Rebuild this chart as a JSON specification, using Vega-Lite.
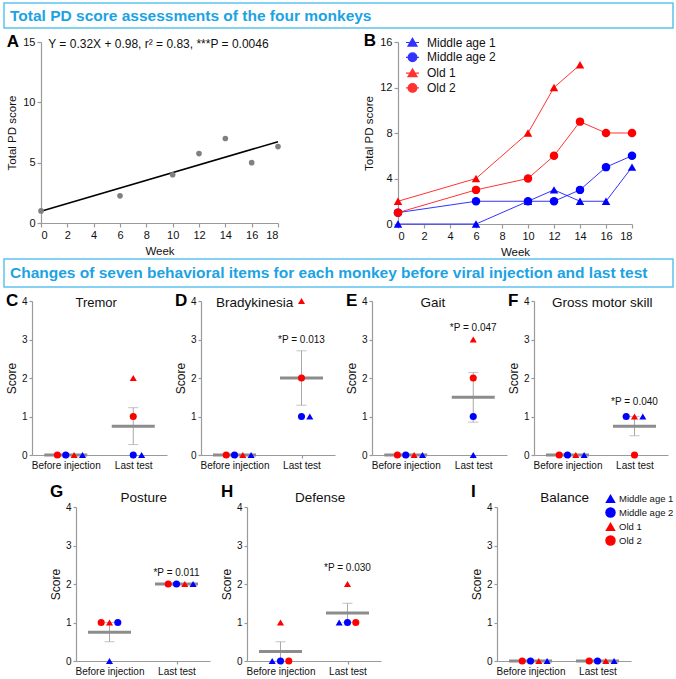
{
 "$schema": "https://vega.github.io/schema/vega-lite/v6.json",
 "padding": {"left": 3, "top": 2, "right": 2, "bottom": 2},
 "background": "white",
 "config": {
  "font": "Liberation Sans",
  "view": {"stroke": null},
  "axis": {"grid": false, "domainColor": "#9a9a9a", "tickColor": "#9a9a9a", "domainWidth": 1.2, "tickWidth": 1.2, "tickSize": 4, "labelFontSize": 10, "labelColor": "#111", "labelPadding": 2, "labelOverlap": false, "titleFontSize": 12, "titleFontWeight": "normal", "titleColor": "#111", "titlePadding": 2.5, "labelFont": "Liberation Sans", "titleFont": "Liberation Sans"},
  "title": {"font": "Liberation Sans"},
  "legend": {"labelFont": "Liberation Sans", "labelColor": "#111"}
 },
 "datasets": {
  "avg": [{"week":0,"score":1},{"week":6,"score":2.25},{"week":10,"score":4},{"week":12,"score":5.75},{"week":14,"score":7},{"week":16,"score":5},{"week":18,"score":6.33}],
  "fit": [{"week":0,"score":0.98},{"week":18,"score":6.74}],
  "monkeys": [
   {"monkey":"Middle age 1","week":0,"score":0},{"monkey":"Middle age 1","week":6,"score":0},{"monkey":"Middle age 1","week":10,"score":2},{"monkey":"Middle age 1","week":12,"score":3},{"monkey":"Middle age 1","week":14,"score":2},{"monkey":"Middle age 1","week":16,"score":2},{"monkey":"Middle age 1","week":18,"score":5},
   {"monkey":"Middle age 2","week":0,"score":1},{"monkey":"Middle age 2","week":6,"score":2},{"monkey":"Middle age 2","week":10,"score":2},{"monkey":"Middle age 2","week":12,"score":2},{"monkey":"Middle age 2","week":14,"score":3},{"monkey":"Middle age 2","week":16,"score":5},{"monkey":"Middle age 2","week":18,"score":6},
   {"monkey":"Old 1","week":0,"score":2},{"monkey":"Old 1","week":6,"score":4},{"monkey":"Old 1","week":10,"score":8},{"monkey":"Old 1","week":12,"score":12},{"monkey":"Old 1","week":14,"score":14},
   {"monkey":"Old 2","week":0,"score":1},{"monkey":"Old 2","week":6,"score":3},{"monkey":"Old 2","week":10,"score":4},{"monkey":"Old 2","week":12,"score":6},{"monkey":"Old 2","week":14,"score":9},{"monkey":"Old 2","week":16,"score":8},{"monkey":"Old 2","week":18,"score":8}
  ],
  "scores": [
   {"panel":"C","t":0,"monkey":"Old 2","score":0},{"panel":"C","t":0,"monkey":"Middle age 2","score":0},{"panel":"C","t":0,"monkey":"Old 1","score":0},{"panel":"C","t":0,"monkey":"Middle age 1","score":0},
   {"panel":"C","t":1,"monkey":"Old 1","score":2},{"panel":"C","t":1,"monkey":"Old 2","score":1},{"panel":"C","t":1,"monkey":"Middle age 2","score":0},{"panel":"C","t":1,"monkey":"Middle age 1","score":0},
   {"panel":"D","t":0,"monkey":"Old 2","score":0},{"panel":"D","t":0,"monkey":"Middle age 2","score":0},{"panel":"D","t":0,"monkey":"Old 1","score":0},{"panel":"D","t":0,"monkey":"Middle age 1","score":0},
   {"panel":"D","t":1,"monkey":"Old 1","score":4},{"panel":"D","t":1,"monkey":"Old 2","score":2},{"panel":"D","t":1,"monkey":"Middle age 2","score":1},{"panel":"D","t":1,"monkey":"Middle age 1","score":1},
   {"panel":"E","t":0,"monkey":"Old 2","score":0},{"panel":"E","t":0,"monkey":"Middle age 2","score":0},{"panel":"E","t":0,"monkey":"Old 1","score":0},{"panel":"E","t":0,"monkey":"Middle age 1","score":0},
   {"panel":"E","t":1,"monkey":"Old 1","score":3},{"panel":"E","t":1,"monkey":"Old 2","score":2},{"panel":"E","t":1,"monkey":"Middle age 2","score":1},{"panel":"E","t":1,"monkey":"Middle age 1","score":0},
   {"panel":"F","t":0,"monkey":"Old 2","score":0},{"panel":"F","t":0,"monkey":"Middle age 2","score":0},{"panel":"F","t":0,"monkey":"Old 1","score":0},{"panel":"F","t":0,"monkey":"Middle age 1","score":0},
   {"panel":"F","t":1,"monkey":"Middle age 2","score":1},{"panel":"F","t":1,"monkey":"Old 1","score":1},{"panel":"F","t":1,"monkey":"Middle age 1","score":1},{"panel":"F","t":1,"monkey":"Old 2","score":0},
   {"panel":"G","t":0,"monkey":"Old 2","score":1},{"panel":"G","t":0,"monkey":"Old 1","score":1},{"panel":"G","t":0,"monkey":"Middle age 2","score":1},{"panel":"G","t":0,"monkey":"Middle age 1","score":0},
   {"panel":"G","t":1,"monkey":"Old 2","score":2},{"panel":"G","t":1,"monkey":"Middle age 2","score":2},{"panel":"G","t":1,"monkey":"Old 1","score":2},{"panel":"G","t":1,"monkey":"Middle age 1","score":2},
   {"panel":"H","t":0,"monkey":"Old 1","score":1},{"panel":"H","t":0,"monkey":"Middle age 1","score":0},{"panel":"H","t":0,"monkey":"Middle age 2","score":0},{"panel":"H","t":0,"monkey":"Old 2","score":0},
   {"panel":"H","t":1,"monkey":"Old 1","score":2},{"panel":"H","t":1,"monkey":"Middle age 1","score":1},{"panel":"H","t":1,"monkey":"Middle age 2","score":1},{"panel":"H","t":1,"monkey":"Old 2","score":1},
   {"panel":"I","t":0,"monkey":"Old 2","score":0},{"panel":"I","t":0,"monkey":"Middle age 2","score":0},{"panel":"I","t":0,"monkey":"Old 1","score":0},{"panel":"I","t":0,"monkey":"Middle age 1","score":0},
   {"panel":"I","t":1,"monkey":"Old 2","score":0},{"panel":"I","t":1,"monkey":"Middle age 2","score":0},{"panel":"I","t":1,"monkey":"Old 1","score":0},{"panel":"I","t":1,"monkey":"Middle age 1","score":0}
  ],
  "ptitles": [{"panel":"C","label":"Tremor"},{"panel":"D","label":"Bradykinesia"},{"panel":"E","label":"Gait"},{"panel":"F","label":"Gross motor skill"},{"panel":"G","label":"Posture"},{"panel":"H","label":"Defense"},{"panel":"I","label":"Balance"}],
  "pvals": [{"panel":"D","label":"*P = 0.013","py":3.0},{"panel":"E","label":"*P = 0.047","py":3.3},{"panel":"F","label":"*P = 0.040","py":1.38},{"panel":"G","label":"*P = 0.011","py":2.29},{"panel":"H","label":"*P = 0.030","py":2.42}]
 },
 "spacing": 0,
 "resolve": {"scale": {"color": "independent", "shape": "independent", "stroke": "independent"}, "legend": {"color": "independent", "shape": "independent", "stroke": "independent"}},
 "vconcat": [
  {
   "spacing": 3,
   "resolve": {"scale": {"color": "independent", "shape": "independent", "stroke": "independent"}, "legend": {"color": "independent", "shape": "independent", "stroke": "independent"}},
   "vconcat": [
    {"width": 669, "height": 25, "data": {"values": []}, "mark": "text", "encoding": {}, "view": {"stroke": "#5cc2ee", "strokeWidth": 1.5},
     "title": {"text": "Total PD score assessments of the four monkeys", "anchor": "start", "frame": "group", "offset": -21, "dx": 6, "fontSize": 15.5, "fontWeight": "bold", "color": "#1ba3e3"}},
    {
     "spacing": 0,
     "resolve": {"scale": {"color": "independent", "shape": "independent", "stroke": "independent"}, "legend": {"color": "independent", "shape": "independent", "stroke": "independent"}},
     "hconcat": [
      {"width": 2, "height": 1, "data": {"values": []}, "mark": "point", "encoding": {}},
      {
       "spacing": 82,
       "resolve": {"scale": {"color": "independent", "shape": "independent", "stroke": "independent"}, "legend": {"color": "independent", "shape": "independent", "stroke": "independent"}},
       "hconcat": [
        {
         "width": 237, "height": 181,
         "title": {"text": "A", "anchor": "start", "frame": "bounds", "fontSize": 17, "fontWeight": "bold", "color": "#000", "offset": -15},
         "layer": [
          {"data": {"name": "fit"}, "mark": {"type": "line", "color": "#000", "strokeWidth": 1.5},
           "encoding": {
            "x": {"field": "week", "type": "quantitative", "scale": {"domain": [0, 18], "nice": false}, "axis": {"values": [0,2,4,6,8,10,12,14,16,18], "tickCount": 20, "labelOverlap": false, "title": "Week", "labelFontSize": 11, "titleFontSize": 11.5, "titlePadding": 5}},
            "y": {"field": "score", "type": "quantitative", "scale": {"domain": [0, 15], "nice": false}, "axis": {"values": [0,5,10,15], "tickCount": 20, "labelOverlap": false, "title": "Total PD score", "labelFontSize": 11, "titleFontSize": 11.5, "titlePadding": 5}}}},
          {"data": {"name": "avg"}, "mark": {"type": "circle", "color": "#808080", "size": 32, "opacity": 1},
           "encoding": {"x": {"field": "week", "type": "quantitative"}, "y": {"field": "score", "type": "quantitative"}}},
          {"data": {"values": [{"label": "Y = 0.32X + 0.98, r² = 0.83, ***P = 0.0046"}]}, "mark": {"type": "text", "align": "left", "baseline": "middle", "fontSize": 12, "dy": 2, "color": "#111"},
           "encoding": {"x": {"datum": 0.55}, "y": {"datum": 15}, "text": {"field": "label"}}}
         ]
        },
        {
         "width": 234, "height": 182,
         "title": {"text": "B", "anchor": "start", "frame": "bounds", "fontSize": 17, "fontWeight": "bold", "color": "#000", "offset": -15},
         "data": {"name": "monkeys"},
         "layer": [
          {"mark": {"type": "line", "strokeWidth": 1, "opacity": 0.8},
           "encoding": {
            "x": {"field": "week", "type": "quantitative", "scale": {"domain": [0, 18], "nice": false}, "axis": {"values": [0,2,4,6,8,10,12,14,16,18], "tickCount": 20, "labelOverlap": false, "title": "Week", "labelFontSize": 11, "titleFontSize": 11.5, "titlePadding": 5}},
            "y": {"field": "score", "type": "quantitative", "scale": {"domain": [0, 16], "nice": false}, "axis": {"values": [0,4,8,12,16], "tickCount": 20, "labelOverlap": false, "title": "Total PD score", "labelFontSize": 11, "titleFontSize": 11.5, "titlePadding": 5}},
            "stroke": {"field": "monkey", "type": "nominal", "scale": {"domain": ["Middle age 1","Middle age 2","Old 1","Old 2"], "range": ["#0000ff","#0000ff","#ff0000","#ff0000"]}}}},
          {"transform": [{"filter": "datum.monkey == 'Middle age 1' || datum.monkey == 'Old 1'"}],
           "mark": {"type": "point", "filled": true, "size": 72, "opacity": 1, "shape": "triangle-up"},
           "encoding": {
            "x": {"field": "week", "type": "quantitative"},
            "y": {"field": "score", "type": "quantitative"},
            "color": {"field": "monkey", "type": "nominal", "scale": {"domain": ["Middle age 1","Middle age 2","Old 1","Old 2"], "range": ["#0000ff","#0000ff","#ff0000","#ff0000"]}}}},
          {"transform": [{"filter": "datum.monkey == 'Middle age 2' || datum.monkey == 'Old 2'"}],
           "mark": {"type": "point", "filled": true, "size": 72, "opacity": 1, "shape": "circle"},
           "encoding": {
            "x": {"field": "week", "type": "quantitative"},
            "y": {"field": "score", "type": "quantitative"},
            "color": {"field": "monkey", "type": "nominal", "scale": {"domain": ["Middle age 1","Middle age 2","Old 1","Old 2"], "range": ["#0000ff","#0000ff","#ff0000","#ff0000"]}}}},
          {"mark": {"type": "point", "filled": true, "opacity": 0, "size": 1},
           "encoding": {
            "x": {"field": "week", "type": "quantitative"},
            "y": {"field": "score", "type": "quantitative"},
            "color": {"field": "monkey", "type": "nominal", "scale": {"domain": ["Middle age 1","Middle age 2","Old 1","Old 2"], "range": ["#0000ff","#0000ff","#ff0000","#ff0000"]},
             "legend": {"title": null, "orient": "none", "legendX": 7, "legendY": -7, "padding": 0, "labelFontSize": 12, "symbolSize": 169, "symbolStrokeWidth": 1.2, "symbolOpacity": 1, "labelOffset": 7, "rowPadding": 0.8}},
            "shape": {"field": "monkey", "type": "nominal", "scale": {"domain": ["Middle age 1","Middle age 2","Old 1","Old 2"], "range": ["M-1,0L1,0M0,-0.65L0.7,0.55L-0.7,0.55Z", "M-1,0L1,0M0.67,0A0.67,0.67,0,1,1,-0.67,0A0.67,0.67,0,1,1,0.67,0Z", "M-1,0L1,0M0,-0.65L0.7,0.55L-0.7,0.55Z", "M-1,0L1,0M0.67,0A0.67,0.67,0,1,1,-0.67,0A0.67,0.67,0,1,1,0.67,0Z"]},
             "legend": {"title": null, "orient": "none", "legendX": 7, "legendY": -7, "padding": 0, "labelFontSize": 12, "symbolSize": 169, "symbolStrokeWidth": 1.2, "symbolOpacity": 1, "labelOffset": 7, "rowPadding": 0.8}},
            "stroke": {"field": "monkey", "type": "nominal", "scale": {"domain": ["Middle age 1","Middle age 2","Old 1","Old 2"], "range": ["#0000ff","#0000ff","#ff0000","#ff0000"]},
             "legend": {"title": null, "orient": "none", "legendX": 7, "legendY": -7, "padding": 0, "labelFontSize": 12, "symbolSize": 169, "symbolStrokeWidth": 1.2, "symbolOpacity": 1, "labelOffset": 7, "rowPadding": 0.8}}}}
         ]
        }
       ]
      }
     ]
    }
   ]
  },
  {
   "spacing": 4,
   "resolve": {"scale": {"color": "independent", "shape": "independent", "stroke": "independent"}, "legend": {"color": "independent", "shape": "independent", "stroke": "independent"}},
   "vconcat": [
    {"width": 669, "height": 28, "data": {"values": []}, "mark": "text", "encoding": {}, "view": {"stroke": "#5cc2ee", "strokeWidth": 1.5},
     "title": {"text": "Changes of seven behavioral items for each monkey before viral injection and last test", "anchor": "start", "frame": "group", "offset": -22, "dx": 6, "fontSize": 15.5, "fontWeight": "bold", "color": "#1ba3e3"}},
    {
     "spacing": 13,
     "resolve": {"scale": {"color": "independent", "shape": "independent"}, "legend": {"color": "independent", "shape": "independent"}},
     "vconcat": [
      {
       "spacing": 0,
       "resolve": {"scale": {"color": "independent", "shape": "independent"}, "legend": {"color": "independent", "shape": "independent"}},
       "hconcat": [
        {"width": 1, "height": 1, "data": {"values": []}, "mark": "point", "encoding": {}},
        {
         "spacing": 7,
         "resolve": {"scale": {"color": "independent", "shape": "independent"}, "legend": {"color": "independent", "shape": "independent"}},
         "hconcat": [
          {"width": 135, "height": 154,
           "title": {"text": "C", "anchor": "start", "frame": "bounds", "fontSize": 17, "fontWeight": "bold", "color": "#000", "offset": -14},
           "data": {"name": "scores"}, "transform": [{"filter": "datum.panel == 'C'"}],
           "layer": [
            {"mark": {"type": "errorbar", "extent": "stderr", "orient": "vertical", "color": "#a8a8a8", "ticks": {"size": 10, "color": "#a8a8a8"}},
             "encoding": {"x": {"field": "t", "type": "quantitative", "title": null}, "y": {"field": "score", "type": "quantitative", "title": "Score"}}},
            {"mark": {"type": "tick", "orient": "horizontal", "size": 43, "thickness": 3, "color": "#8c8c8c"},
             "encoding": {"x": {"field": "t", "type": "quantitative", "scale": {"domain": [-0.5, 1.5], "nice": false, "zero": false}, "axis": {"values": [0, 1], "tickCount": 20, "labelExpr": "datum.value == 0 ? 'Before injection' : 'Last test'", "title": null, "labelOverlap": false, "labelFlush": false, "tickSize": 3}},
              "y": {"aggregate": "mean", "field": "score", "type": "quantitative", "scale": {"domain": [0, 4], "nice": false}, "axis": {"values": [0,1,2,3,4], "tickCount": 20, "format": "d", "labelOverlap": false, "title": "Score", "tickSize": 3}}}},
            {"transform": [{"window": [{"op": "row_number", "as": "rn"}, {"op": "count", "as": "n"}], "groupby": ["t", "score"], "frame": [null, null]}, {"calculate": "datum.t + (datum.rn - 1 - floor((datum.n - 1) / 2)) * 0.124", "as": "xj"}],
             "mark": {"type": "point", "filled": true, "size": 50, "opacity": 1},
             "encoding": {"x": {"field": "xj", "type": "quantitative", "title": null}, "y": {"field": "score", "type": "quantitative", "title": "Score"},
              "color": {"field": "monkey", "type": "nominal", "scale": {"domain": ["Middle age 1","Middle age 2","Old 1","Old 2"], "range": ["#0000ff","#0000ff","#ff0000","#ff0000"]}, "legend": null},
              "shape": {"field": "monkey", "type": "nominal", "scale": {"domain": ["Middle age 1","Middle age 2","Old 1","Old 2"], "range": ["triangle-up","circle","triangle-up","circle"]}, "legend": null}}},
            {"data": {"name": "ptitles"}, "transform": [{"filter": "datum.panel == 'C'"}], "mark": {"type": "text", "fontSize": 13, "baseline": "middle", "dy": 2, "color": "#111"},
             "encoding": {"x": {"datum": 0.45}, "y": {"datum": 4}, "text": {"field": "label"}}}
           ]},
          {
           "spacing": 10,
           "resolve": {"scale": {"color": "independent", "shape": "independent"}, "legend": {"color": "independent", "shape": "independent"}},
           "hconcat": [
            {"width": 134, "height": 154,
             "title": {"text": "D", "anchor": "start", "frame": "bounds", "fontSize": 17, "fontWeight": "bold", "color": "#000", "offset": -14},
             "data": {"name": "scores"}, "transform": [{"filter": "datum.panel == 'D'"}],
             "layer": [
              {"mark": {"type": "errorbar", "extent": "stderr", "orient": "vertical", "color": "#a8a8a8", "ticks": {"size": 10, "color": "#a8a8a8"}},
               "encoding": {"x": {"field": "t", "type": "quantitative", "title": null}, "y": {"field": "score", "type": "quantitative", "title": "Score"}}},
              {"mark": {"type": "tick", "orient": "horizontal", "size": 43, "thickness": 3, "color": "#8c8c8c"},
               "encoding": {"x": {"field": "t", "type": "quantitative", "scale": {"domain": [-0.5, 1.5], "nice": false, "zero": false}, "axis": {"values": [0, 1], "tickCount": 20, "labelExpr": "datum.value == 0 ? 'Before injection' : 'Last test'", "title": null, "labelOverlap": false, "labelFlush": false, "tickSize": 3}},
                "y": {"aggregate": "mean", "field": "score", "type": "quantitative", "scale": {"domain": [0, 4], "nice": false}, "axis": {"values": [0,1,2,3,4], "tickCount": 20, "format": "d", "labelOverlap": false, "title": "Score", "tickSize": 3}}}},
              {"transform": [{"window": [{"op": "row_number", "as": "rn"}, {"op": "count", "as": "n"}], "groupby": ["t", "score"], "frame": [null, null]}, {"calculate": "datum.t + (datum.rn - 1 - floor((datum.n - 1) / 2)) * 0.124", "as": "xj"}],
               "mark": {"type": "point", "filled": true, "size": 50, "opacity": 1},
               "encoding": {"x": {"field": "xj", "type": "quantitative", "title": null}, "y": {"field": "score", "type": "quantitative", "title": "Score"},
                "color": {"field": "monkey", "type": "nominal", "scale": {"domain": ["Middle age 1","Middle age 2","Old 1","Old 2"], "range": ["#0000ff","#0000ff","#ff0000","#ff0000"]}, "legend": null},
                "shape": {"field": "monkey", "type": "nominal", "scale": {"domain": ["Middle age 1","Middle age 2","Old 1","Old 2"], "range": ["triangle-up","circle","triangle-up","circle"]}, "legend": null}}},
              {"data": {"name": "ptitles"}, "transform": [{"filter": "datum.panel == 'D'"}], "mark": {"type": "text", "fontSize": 13.5, "baseline": "middle", "dy": 2, "color": "#111"},
               "encoding": {"x": {"datum": 0.3}, "y": {"datum": 4}, "text": {"field": "label"}}},
              {"data": {"name": "pvals"}, "transform": [{"filter": "datum.panel == 'D'"}], "mark": {"type": "text", "fontSize": 10, "baseline": "middle", "color": "#111"},
               "encoding": {"x": {"datum": 1}, "y": {"field": "py", "type": "quantitative"}, "text": {"field": "label"}}}
             ]},
            {
             "spacing": 0,
             "resolve": {"scale": {"color": "independent", "shape": "independent"}, "legend": {"color": "independent", "shape": "independent"}},
             "hconcat": [
              {"width": 135, "height": 154,
               "title": {"text": "E", "anchor": "start", "frame": "bounds", "fontSize": 17, "fontWeight": "bold", "color": "#000", "offset": -14},
               "data": {"name": "scores"}, "transform": [{"filter": "datum.panel == 'E'"}],
               "layer": [
                {"mark": {"type": "errorbar", "extent": "stderr", "orient": "vertical", "color": "#a8a8a8", "ticks": {"size": 10, "color": "#a8a8a8"}},
                 "encoding": {"x": {"field": "t", "type": "quantitative", "title": null}, "y": {"field": "score", "type": "quantitative", "title": "Score"}}},
                {"mark": {"type": "tick", "orient": "horizontal", "size": 43, "thickness": 3, "color": "#8c8c8c"},
                 "encoding": {"x": {"field": "t", "type": "quantitative", "scale": {"domain": [-0.5, 1.5], "nice": false, "zero": false}, "axis": {"values": [0, 1], "tickCount": 20, "labelExpr": "datum.value == 0 ? 'Before injection' : 'Last test'", "title": null, "labelOverlap": false, "labelFlush": false, "tickSize": 3}},
                  "y": {"aggregate": "mean", "field": "score", "type": "quantitative", "scale": {"domain": [0, 4], "nice": false}, "axis": {"values": [0,1,2,3,4], "tickCount": 20, "format": "d", "labelOverlap": false, "title": "Score", "tickSize": 3}}}},
                {"transform": [{"window": [{"op": "row_number", "as": "rn"}, {"op": "count", "as": "n"}], "groupby": ["t", "score"], "frame": [null, null]}, {"calculate": "datum.t + (datum.rn - 1 - floor((datum.n - 1) / 2)) * 0.124", "as": "xj"}],
                 "mark": {"type": "point", "filled": true, "size": 50, "opacity": 1},
                 "encoding": {"x": {"field": "xj", "type": "quantitative", "title": null}, "y": {"field": "score", "type": "quantitative", "title": "Score"},
                  "color": {"field": "monkey", "type": "nominal", "scale": {"domain": ["Middle age 1","Middle age 2","Old 1","Old 2"], "range": ["#0000ff","#0000ff","#ff0000","#ff0000"]}, "legend": null},
                  "shape": {"field": "monkey", "type": "nominal", "scale": {"domain": ["Middle age 1","Middle age 2","Old 1","Old 2"], "range": ["triangle-up","circle","triangle-up","circle"]}, "legend": null}}},
                {"data": {"name": "ptitles"}, "transform": [{"filter": "datum.panel == 'E'"}], "mark": {"type": "text", "fontSize": 13.5, "baseline": "middle", "dy": 2, "color": "#111"},
                 "encoding": {"x": {"datum": 0.4}, "y": {"datum": 4}, "text": {"field": "label"}}},
                {"data": {"name": "pvals"}, "transform": [{"filter": "datum.panel == 'E'"}], "mark": {"type": "text", "fontSize": 10, "baseline": "middle", "color": "#111"},
                 "encoding": {"x": {"datum": 1}, "y": {"field": "py", "type": "quantitative"}, "text": {"field": "label"}}}
               ]},
              {"width": 134, "height": 154,
               "title": {"text": "F", "anchor": "start", "frame": "bounds", "fontSize": 17, "fontWeight": "bold", "color": "#000", "offset": -14},
               "data": {"name": "scores"}, "transform": [{"filter": "datum.panel == 'F'"}],
               "layer": [
                {"mark": {"type": "errorbar", "extent": "stderr", "orient": "vertical", "color": "#a8a8a8", "ticks": {"size": 10, "color": "#a8a8a8"}},
                 "encoding": {"x": {"field": "t", "type": "quantitative", "title": null}, "y": {"field": "score", "type": "quantitative", "title": "Score"}}},
                {"mark": {"type": "tick", "orient": "horizontal", "size": 43, "thickness": 3, "color": "#8c8c8c"},
                 "encoding": {"x": {"field": "t", "type": "quantitative", "scale": {"domain": [-0.5, 1.5], "nice": false, "zero": false}, "axis": {"values": [0, 1], "tickCount": 20, "labelExpr": "datum.value == 0 ? 'Before injection' : 'Last test'", "title": null, "labelOverlap": false, "labelFlush": false, "tickSize": 3}},
                  "y": {"aggregate": "mean", "field": "score", "type": "quantitative", "scale": {"domain": [0, 4], "nice": false}, "axis": {"values": [0,1,2,3,4], "tickCount": 20, "format": "d", "labelOverlap": false, "title": "Score", "tickSize": 3}}}},
                {"transform": [{"window": [{"op": "row_number", "as": "rn"}, {"op": "count", "as": "n"}], "groupby": ["t", "score"], "frame": [null, null]}, {"calculate": "datum.t + (datum.rn - 1 - floor((datum.n - 1) / 2)) * 0.124", "as": "xj"}],
                 "mark": {"type": "point", "filled": true, "size": 50, "opacity": 1},
                 "encoding": {"x": {"field": "xj", "type": "quantitative", "title": null}, "y": {"field": "score", "type": "quantitative", "title": "Score"},
                  "color": {"field": "monkey", "type": "nominal", "scale": {"domain": ["Middle age 1","Middle age 2","Old 1","Old 2"], "range": ["#0000ff","#0000ff","#ff0000","#ff0000"]}, "legend": null},
                  "shape": {"field": "monkey", "type": "nominal", "scale": {"domain": ["Middle age 1","Middle age 2","Old 1","Old 2"], "range": ["triangle-up","circle","triangle-up","circle"]}, "legend": null}}},
                {"data": {"name": "ptitles"}, "transform": [{"filter": "datum.panel == 'F'"}], "mark": {"type": "text", "fontSize": 13.5, "baseline": "middle", "dy": 2, "color": "#111"},
                 "encoding": {"x": {"datum": 0.52}, "y": {"datum": 4}, "text": {"field": "label"}}},
                {"data": {"name": "pvals"}, "transform": [{"filter": "datum.panel == 'F'"}], "mark": {"type": "text", "fontSize": 10, "baseline": "middle", "color": "#111"},
                 "encoding": {"x": {"datum": 1}, "y": {"field": "py", "type": "quantitative"}, "text": {"field": "label"}}}
               ]}
             ]
            }
           ]
          }
         ]
        }
       ]
      },
      {
       "spacing": 0,
       "resolve": {"scale": {"color": "independent", "shape": "independent"}, "legend": {"color": "independent", "shape": "independent"}},
       "hconcat": [
        {"width": 45, "height": 1, "data": {"values": []}, "mark": "point", "encoding": {}},
        {
         "spacing": 89,
         "resolve": {"scale": {"color": "independent", "shape": "independent"}, "legend": {"color": "independent", "shape": "independent"}},
         "hconcat": [
          {
           "spacing": 10,
           "resolve": {"scale": {"color": "independent", "shape": "independent"}, "legend": {"color": "independent", "shape": "independent"}},
           "hconcat": [
            {"width": 134, "height": 154,
             "title": {"text": "G", "anchor": "start", "frame": "bounds", "fontSize": 17, "fontWeight": "bold", "color": "#000", "offset": -10},
             "data": {"name": "scores"}, "transform": [{"filter": "datum.panel == 'G'"}],
             "layer": [
              {"mark": {"type": "errorbar", "extent": "stderr", "orient": "vertical", "color": "#a8a8a8", "ticks": {"size": 10, "color": "#a8a8a8"}},
               "encoding": {"x": {"field": "t", "type": "quantitative", "title": null}, "y": {"field": "score", "type": "quantitative", "title": "Score"}}},
              {"mark": {"type": "tick", "orient": "horizontal", "size": 43, "thickness": 3, "color": "#8c8c8c"},
               "encoding": {"x": {"field": "t", "type": "quantitative", "scale": {"domain": [-0.5, 1.5], "nice": false, "zero": false}, "axis": {"values": [0, 1], "tickCount": 20, "labelExpr": "datum.value == 0 ? 'Before injection' : 'Last test'", "title": null, "labelOverlap": false, "labelFlush": false, "tickSize": 3}},
                "y": {"aggregate": "mean", "field": "score", "type": "quantitative", "scale": {"domain": [0, 4], "nice": false}, "axis": {"values": [0,1,2,3,4], "tickCount": 20, "format": "d", "labelOverlap": false, "title": "Score", "tickSize": 3}}}},
              {"transform": [{"window": [{"op": "row_number", "as": "rn"}, {"op": "count", "as": "n"}], "groupby": ["t", "score"], "frame": [null, null]}, {"calculate": "datum.t + (datum.rn - 1 - floor((datum.n - 1) / 2)) * 0.124", "as": "xj"}],
               "mark": {"type": "point", "filled": true, "size": 50, "opacity": 1},
               "encoding": {"x": {"field": "xj", "type": "quantitative", "title": null}, "y": {"field": "score", "type": "quantitative", "title": "Score"},
                "color": {"field": "monkey", "type": "nominal", "scale": {"domain": ["Middle age 1","Middle age 2","Old 1","Old 2"], "range": ["#0000ff","#0000ff","#ff0000","#ff0000"]}, "legend": null},
                "shape": {"field": "monkey", "type": "nominal", "scale": {"domain": ["Middle age 1","Middle age 2","Old 1","Old 2"], "range": ["triangle-up","circle","triangle-up","circle"]}, "legend": null}}},
              {"data": {"name": "ptitles"}, "transform": [{"filter": "datum.panel == 'G'"}], "mark": {"type": "text", "fontSize": 13.5, "baseline": "middle", "dy": -9, "color": "#111"},
               "encoding": {"x": {"datum": 0.51}, "y": {"datum": 4}, "text": {"field": "label"}}},
              {"data": {"name": "pvals"}, "transform": [{"filter": "datum.panel == 'G'"}], "mark": {"type": "text", "fontSize": 10, "baseline": "middle", "color": "#111"},
               "encoding": {"x": {"datum": 1}, "y": {"field": "py", "type": "quantitative"}, "text": {"field": "label"}}}
             ]},
            {"width": 134, "height": 154,
             "title": {"text": "H", "anchor": "start", "frame": "bounds", "fontSize": 17, "fontWeight": "bold", "color": "#000", "offset": -10},
             "data": {"name": "scores"}, "transform": [{"filter": "datum.panel == 'H'"}],
             "layer": [
              {"mark": {"type": "errorbar", "extent": "stderr", "orient": "vertical", "color": "#a8a8a8", "ticks": {"size": 10, "color": "#a8a8a8"}},
               "encoding": {"x": {"field": "t", "type": "quantitative", "title": null}, "y": {"field": "score", "type": "quantitative", "title": "Score"}}},
              {"mark": {"type": "tick", "orient": "horizontal", "size": 43, "thickness": 3, "color": "#8c8c8c"},
               "encoding": {"x": {"field": "t", "type": "quantitative", "scale": {"domain": [-0.5, 1.5], "nice": false, "zero": false}, "axis": {"values": [0, 1], "tickCount": 20, "labelExpr": "datum.value == 0 ? 'Before injection' : 'Last test'", "title": null, "labelOverlap": false, "labelFlush": false, "tickSize": 3}},
                "y": {"aggregate": "mean", "field": "score", "type": "quantitative", "scale": {"domain": [0, 4], "nice": false}, "axis": {"values": [0,1,2,3,4], "tickCount": 20, "format": "d", "labelOverlap": false, "title": "Score", "tickSize": 3}}}},
              {"transform": [{"window": [{"op": "row_number", "as": "rn"}, {"op": "count", "as": "n"}], "groupby": ["t", "score"], "frame": [null, null]}, {"calculate": "datum.t + (datum.rn - 1 - floor((datum.n - 1) / 2)) * 0.124", "as": "xj"}],
               "mark": {"type": "point", "filled": true, "size": 50, "opacity": 1},
               "encoding": {"x": {"field": "xj", "type": "quantitative", "title": null}, "y": {"field": "score", "type": "quantitative", "title": "Score"},
                "color": {"field": "monkey", "type": "nominal", "scale": {"domain": ["Middle age 1","Middle age 2","Old 1","Old 2"], "range": ["#0000ff","#0000ff","#ff0000","#ff0000"]}, "legend": null},
                "shape": {"field": "monkey", "type": "nominal", "scale": {"domain": ["Middle age 1","Middle age 2","Old 1","Old 2"], "range": ["triangle-up","circle","triangle-up","circle"]}, "legend": null}}},
              {"data": {"name": "ptitles"}, "transform": [{"filter": "datum.panel == 'H'"}], "mark": {"type": "text", "fontSize": 13.5, "baseline": "middle", "dy": -9, "color": "#111"},
               "encoding": {"x": {"datum": 0.59}, "y": {"datum": 4}, "text": {"field": "label"}}},
              {"data": {"name": "pvals"}, "transform": [{"filter": "datum.panel == 'H'"}], "mark": {"type": "text", "fontSize": 10, "baseline": "middle", "color": "#111"},
               "encoding": {"x": {"datum": 1}, "y": {"field": "py", "type": "quantitative"}, "text": {"field": "label"}}}
             ]}
           ]
          },
          {"width": 134, "height": 154,
           "title": {"text": "I", "anchor": "start", "frame": "bounds", "fontSize": 17, "fontWeight": "bold", "color": "#000", "offset": -10},
           "data": {"name": "scores"}, "transform": [{"filter": "datum.panel == 'I'"}],
           "layer": [
            {"mark": {"type": "errorbar", "extent": "stderr", "orient": "vertical", "color": "#a8a8a8", "ticks": {"size": 10, "color": "#a8a8a8"}},
             "encoding": {"x": {"field": "t", "type": "quantitative", "title": null}, "y": {"field": "score", "type": "quantitative", "title": "Score"}}},
            {"mark": {"type": "tick", "orient": "horizontal", "size": 43, "thickness": 3, "color": "#8c8c8c"},
             "encoding": {"x": {"field": "t", "type": "quantitative", "scale": {"domain": [-0.5, 1.5], "nice": false, "zero": false}, "axis": {"values": [0, 1], "tickCount": 20, "labelExpr": "datum.value == 0 ? 'Before injection' : 'Last test'", "title": null, "labelOverlap": false, "labelFlush": false, "tickSize": 3}},
              "y": {"aggregate": "mean", "field": "score", "type": "quantitative", "scale": {"domain": [0, 4], "nice": false}, "axis": {"values": [0,1,2,3,4], "tickCount": 20, "format": "d", "labelOverlap": false, "title": "Score", "tickSize": 3}}}},
            {"transform": [{"window": [{"op": "row_number", "as": "rn"}, {"op": "count", "as": "n"}], "groupby": ["t", "score"], "frame": [null, null]}, {"calculate": "datum.t + (datum.rn - 1 - floor((datum.n - 1) / 2)) * 0.124", "as": "xj"}],
             "mark": {"type": "point", "filled": true, "size": 50, "opacity": 1},
             "encoding": {"x": {"field": "xj", "type": "quantitative", "title": null}, "y": {"field": "score", "type": "quantitative", "title": "Score"},
              "color": {"field": "monkey", "type": "nominal", "scale": {"domain": ["Middle age 1","Middle age 2","Old 1","Old 2"], "range": ["#0000ff","#0000ff","#ff0000","#ff0000"]},
               "legend": {"title": null, "orient": "none", "legendX": 108, "legendY": -14, "symbolSize": 110, "labelFontSize": 9.5, "rowPadding": 3, "labelOffset": 3, "symbolStrokeWidth": 0}},
              "shape": {"field": "monkey", "type": "nominal", "scale": {"domain": ["Middle age 1","Middle age 2","Old 1","Old 2"], "range": ["triangle-up","circle","triangle-up","circle"]},
               "legend": {"title": null, "orient": "none", "legendX": 108, "legendY": -14, "symbolSize": 110, "labelFontSize": 9.5, "rowPadding": 3, "labelOffset": 3, "symbolStrokeWidth": 0}}}},
            {"data": {"name": "ptitles"}, "transform": [{"filter": "datum.panel == 'I'"}], "mark": {"type": "text", "fontSize": 13.5, "baseline": "middle", "dy": -9, "color": "#111"},
             "encoding": {"x": {"datum": 0.51}, "y": {"datum": 4}, "text": {"field": "label"}}}
           ]}
         ]
        }
       ]
      }
     ]
    }
   ]
  }
 ]
}
